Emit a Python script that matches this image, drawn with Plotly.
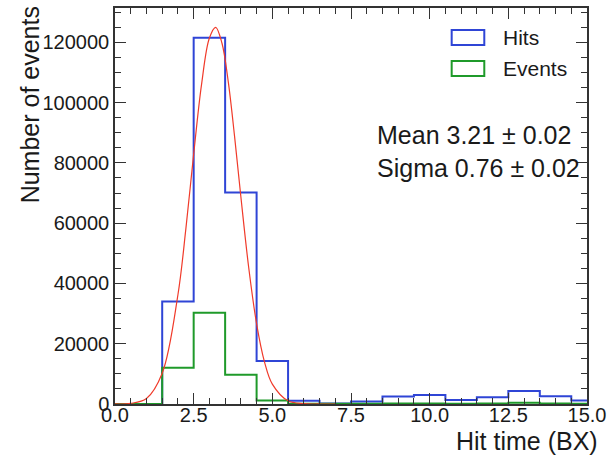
import plotly.graph_objects as go

# ---- data ----
bin_centers = [0, 1, 2, 3, 4, 5, 6, 7, 8, 9, 10, 11, 12, 13, 14, 15]
hits = [0, 0, 34000, 121500, 70200, 14300, 1100, 200, 800, 2500, 3000, 1300, 2200, 4300, 2600, 1200]
events = [0, 0, 12000, 30300, 9700, 1200, 100, 50, 100, 150, 200, 100, 150, 400, 150, 100]

fit_x = [0.0, 0.5, 1.0, 1.5, 2.0, 2.25, 2.5, 2.75, 3.0, 3.2, 3.4, 3.6, 3.8, 4.0, 4.25, 4.5, 4.75, 5.0, 5.5, 6.0, 6.5, 7.0]
fit_y = [15, 210, 1830, 10200, 36250, 57950, 82900, 106000, 121450, 125000, 119700, 106900, 88800, 68750, 45200, 26600, 14000, 6600, 1050, 106, 5, 0]

legend_labels = ["Hits", "Events"]
stats_lines = ["Mean 3.21 \u00b1 0.02", "Sigma 0.76 \u00b1 0.02"]
x_title = "Hit time (BX)"
y_title = "Number of events"

BLUE = "#2f45d6"
GREEN = "#1f9a2a"
RED = "#f03a2a"
FONT = "Liberation Sans, Arial, sans-serif"
TXT = "#1a1a1a"


def step(centers, vals):
    xs = [c - 0.5 for c in centers] + [centers[-1] + 0.5]
    ys = list(vals) + [vals[-1]]
    return xs, ys


fig = go.Figure()
hx, hy = step(bin_centers, hits)
ex, ey = step(bin_centers, events)
fig.add_trace(go.Scatter(x=hx, y=hy, mode="lines", line=dict(color=BLUE, width=2, shape="hv"),
                         name=legend_labels[0], showlegend=False))
fig.add_trace(go.Scatter(x=ex, y=ey, mode="lines", line=dict(color=GREEN, width=2, shape="hv"),
                         name=legend_labels[1], showlegend=False))
fig.add_trace(go.Scatter(x=fit_x, y=fit_y, mode="lines", line=dict(color=RED, width=1.2, shape="spline"),
                         name="fit", showlegend=False))

axis_common = dict(
    showgrid=False, zeroline=False, showline=True, linecolor="#333333", linewidth=1.5,
    mirror="allticks", ticks="inside", tickcolor="#333333", tickwidth=1,
    tickfont=dict(family=FONT, size=20, color=TXT), automargin=False,
)

fig.update_xaxes(range=[0, 15], dtick=2.5, tick0=0, tickformat=".1f", ticklen=11,
                 ticklabelstandoff=-8,
                 minor=dict(dtick=0.5, ticks="inside", ticklen=6, tickcolor="#333333"),
                 **axis_common)
fig.update_yaxes(range=[0, 131400], dtick=20000, tick0=0, tickformat="d", ticklen=11,
                 minor=dict(dtick=5000, ticks="inside", ticklen=6, tickcolor="#333333"),
                 **axis_common)

# legend drawn as outlined boxes + text
leg_colors = [BLUE, GREEN]
leg_y = [0.9255, 0.847]
for lab, col, yy in zip(legend_labels, leg_colors, leg_y):
    fig.add_shape(type="rect", xref="paper", yref="paper",
                  x0=0.7133, x1=0.7824, y0=yy - 0.019, y1=yy + 0.019,
                  line=dict(color=col, width=2), fillcolor="rgba(0,0,0,0)")
    fig.add_annotation(text=lab, xref="paper", yref="paper", x=0.817, y=yy,
                       xanchor="left", yanchor="middle", showarrow=False,
                       font=dict(family=FONT, size=21, color=TXT))

stats_y = [0.679, 0.596]
for line, yy in zip(stats_lines, stats_y):
    fig.add_annotation(text=line, xref="paper", yref="paper", x=0.551, y=yy,
                       xanchor="left", yanchor="middle", showarrow=False,
                       font=dict(family=FONT, size=25, color=TXT))

fig.add_annotation(text=x_title, xref="paper", yref="paper", x=1.028, y=-0.093,
                   xanchor="right", yanchor="middle", showarrow=False,
                   font=dict(family=FONT, size=25, color=TXT))
fig.add_annotation(text=y_title, xref="paper", yref="paper", x=-0.18, y=1.008,
                   xanchor="center", yanchor="top", textangle=-90, showarrow=False,
                   font=dict(family=FONT, size=25, color=TXT))

fig.update_layout(
    width=609, height=456,
    margin=dict(l=115, r=22, t=8, b=52, autoexpand=False),
    paper_bgcolor="white", plot_bgcolor="white",
    showlegend=False,
)

# remove the default 8px page margin so the figure fills the window exactly
fig.write_html("out.html", config={"displayModeBar": False},
               post_script="document.body.style.margin='0';document.body.style.overflow='hidden';")
